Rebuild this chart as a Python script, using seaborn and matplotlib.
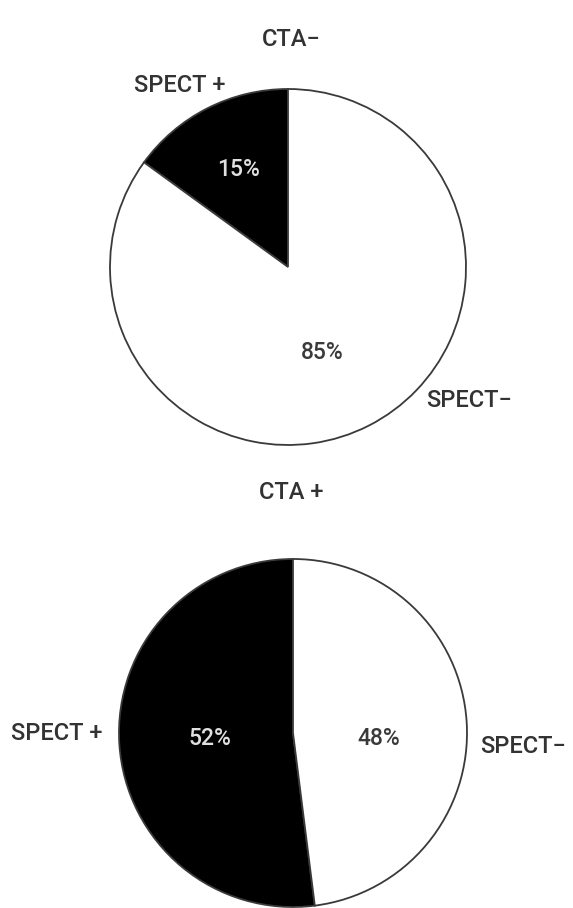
import matplotlib
matplotlib.use("Agg")
import matplotlib.pyplot as plt
import seaborn as sns

sns.set_theme(style="white")
plt.rcParams["font.family"] = ["Roboto", "DejaVu Sans"]

# CTA-negative group: share of SPECT results
cta_neg_labels = ["SPECT +", "SPECT\u2212"]
cta_neg_values = [15, 85]
# CTA-positive group: share of SPECT results
cta_pos_labels = ["SPECT +", "SPECT\u2212"]
cta_pos_values = [52, 48]
titles = ["CTA\u2212", "CTA +"]

W, H = 573, 908
fig = plt.figure(figsize=(W / 100, H / 100), dpi=100)
fig.patch.set_facecolor("white")

text_color = "#333333"
wedge_colors = ["black", "white"]
pct_colors = ["#e0e0e0", "#3a3a3a"]


def pie_axes(cx, cy, r):
    return fig.add_axes([(cx - r) / W, (H - cy - r) / H, 2 * r / W, 2 * r / H])


def draw(ax, values, labels, pct_pos, label_pos):
    wedges, _, autotexts = ax.pie(
        values,
        colors=wedge_colors,
        startangle=90,
        counterclock=True,
        autopct="%d%%",
        wedgeprops=dict(edgecolor="#3a3a3a", linewidth=1.3),
        textprops=dict(fontsize=16.5, fontweight="medium"),
    )
    for t, pos, c in zip(autotexts, pct_pos, pct_colors):
        t.set_position(pos)
        t.set_color(c)
        t.set_ha("center")
        t.set_va("center")
    for lab, pos in zip(labels, label_pos):
        ax.text(pos[0], pos[1], lab, fontsize=17, fontweight="medium",
                color=text_color, ha="center", va="center")
    ax.set_xlim(-1, 1)
    ax.set_ylim(-1, 1)
    ax.set_axis_off()


ax1 = pie_axes(288, 267, 178)
draw(ax1, cta_neg_values, cta_neg_labels,
     pct_pos=[(-0.28, 0.545), (0.19, -0.478)],
     label_pos=[(-0.607, 1.02), (1.02, -0.75)])

ax2 = pie_axes(293, 733, 174)
draw(ax2, cta_pos_values, cta_pos_labels,
     pct_pos=[(-0.477, -0.03), (0.49, -0.03)],
     label_pos=[(-1.356, 0.0), (1.32, -0.075)])

fig.text(291 / W, 1 - 40 / H, titles[0], fontsize=17, fontweight="medium",
         color=text_color, ha="center", va="center")
fig.text(291 / W, 1 - 493 / H, titles[1], fontsize=17, fontweight="medium",
         color=text_color, ha="center", va="center")

fig.savefig("out.png", dpi=100, facecolor="white")
